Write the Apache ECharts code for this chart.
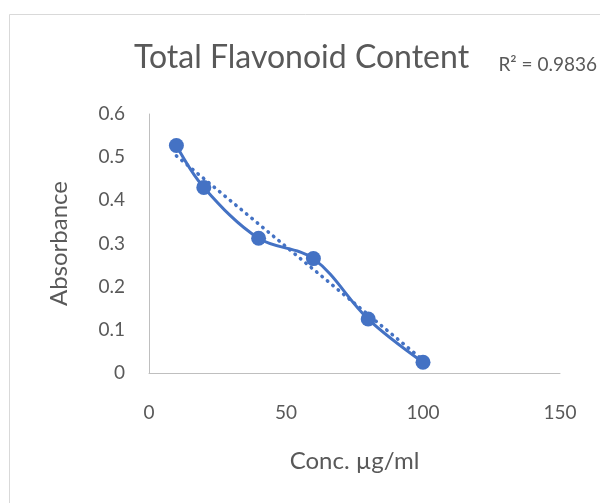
<!DOCTYPE html>
<html><head><meta charset="utf-8">
<script src="https://cdn.jsdelivr.net/npm/echarts@6/dist/echarts.min.js"></script>
<style>html,body{margin:0;padding:0;background:#fff}#c{width:600px;height:503px}</style>
</head><body><div id="c"></div>
<script>
var concentrations = [10, 20, 40, 60, 80, 100];
var absorbance = [0.527, 0.430, 0.312, 0.265, 0.125, 0.025];
var trendX = [10, 100];
var trendY = [0.503, 0.030];
var xTicks = [0, 50, 100, 150];
var yTicks = [0, 0.1, 0.2, 0.3, 0.4, 0.5, 0.6];
var titleText = 'Total Flavonoid Content';
var r2Text = 'R² = 0.9836';

var font = 'Lato, "Open Sans", sans-serif';
var chart = echarts.init(document.getElementById('c'), null, {renderer: 'canvas'});
chart.setOption({
  animation: false,
  backgroundColor: '#fff',
  title: {text: titleText, left: 129, top: 37, textStyle: {fontFamily: font, fontSize: 32, fontWeight: 'normal', color: '#595959'}},
  graphic: [
    {type: 'rect', shape: {x: 9.5, y: 14.5, width: 620, height: 520}, style: {fill: 'none', stroke: '#d9d9d9', lineWidth: 1}, silent: true, z: -1},
    {type: 'text', x: 597, y: 74, style: {text: r2Text, fontFamily: font, fontSize: 19, fill: '#595959', textAlign: 'right', textVerticalAlign: 'bottom'}}
  ],
  grid: {left: 149, right: 40, top: 114, bottom: 130},
  xAxis: {
    type: 'value', min: 0, max: 150, interval: 50,
    name: 'Conc. µg/ml', nameLocation: 'middle', nameGap: 76,
    nameTextStyle: {fontFamily: font, fontSize: 24, color: '#595959'},
    axisLine: {show: true, lineStyle: {color: '#bfbfbf', width: 1}},
    axisTick: {show: false}, splitLine: {show: false},
    axisLabel: {fontFamily: font, fontSize: 19, color: '#595959', margin: 30,
      formatter: function(v){ return xTicks.indexOf(v) >= 0 ? String(v) : ''; }}
  },
  yAxis: {
    type: 'value', min: 0, max: 0.6, interval: 0.1,
    name: 'Absorbance', nameLocation: 'middle', nameGap: 78, nameRotate: 90,
    nameTextStyle: {fontFamily: font, fontSize: 24, color: '#595959'},
    axisLine: {show: true, lineStyle: {color: '#bfbfbf', width: 1}},
    axisTick: {show: false}, splitLine: {show: false},
    axisLabel: {fontFamily: font, fontSize: 19, color: '#595959', margin: 24,
      formatter: function(v){ var r = Math.round(v*10)/10; return yTicks.indexOf(r) >= 0 ? String(r) : ''; }}
  },
  series: [
    {
      type: 'line', data: trendX.map(function(x,i){return [x, trendY[i]];}),
      symbol: 'none', lineStyle: {color: '#4472C4', width: 3.5, type: [0.5, 6.5], cap: 'round'}, z: 1
    },
    {
      type: 'line', smooth: 0.35,
      data: concentrations.map(function(x,i){return [x, absorbance[i]];}),
      symbol: 'circle', symbolSize: 15,
      itemStyle: {color: '#4472C4'},
      lineStyle: {color: '#4472C4', width: 3}, z: 2
    }
  ]
});
</script></body></html>
